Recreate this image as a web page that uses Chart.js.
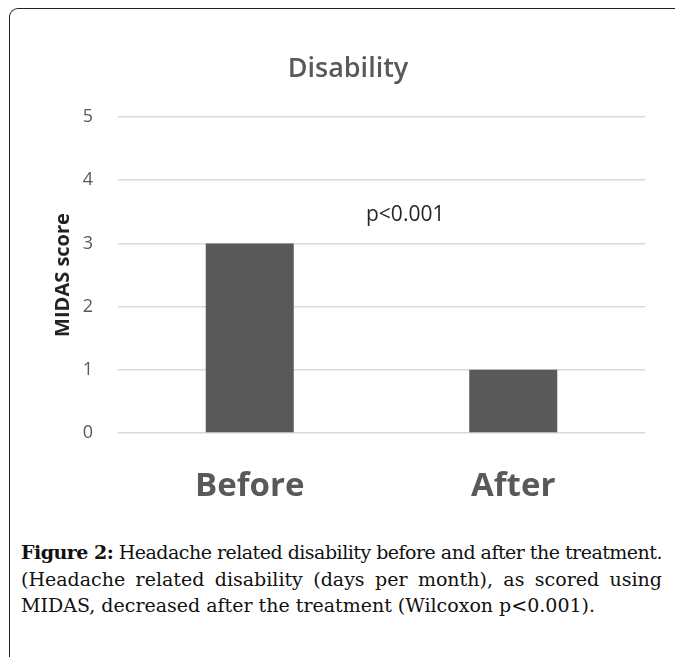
<!DOCTYPE html>
<html>
<head>
<meta charset="utf-8">
<script src="https://cdn.jsdelivr.net/npm/chart.js@4"></script>
<style>
  html, body { margin: 0; padding: 0; background: #fff; }
  body { width: 675px; height: 657px; position: relative; overflow: hidden; }
  .frame {
    position: absolute; left: 9px; top: 8px; width: 720px; height: 720px;
    border-left: 1.5px solid #222; border-top: 1.5px solid #222;
    border-top-left-radius: 9px;
  }
  #wrap { position: absolute; left: 20px; top: 30px; width: 640px; height: 490px; }
  .caption {
    position: absolute; left: 21px; top: 539px; width: 641px;
    font-family: "DejaVu Serif", serif; font-size: 19px; line-height: 26.5px; color: #111;
  }
  .caption span.line { display: inline-block; white-space: nowrap; }
</style>
</head>
<body>
<div class="frame"></div>
<div id="wrap"><canvas id="myChart"></canvas></div>
<div class="caption">
  <div><span class="line fit"><b>Figure 2:</b> Headache related disability before and after the treatment.</span></div>
  <div><span class="line fit">(Headache related disability (days per month), as scored using</span></div>
  <div><span class="line">MIDAS, decreased after the treatment (Wilcoxon p&lt;0.001).</span></div>
</div>
<script>
// data
var categories = ['Before', 'After'];
var midasScores = [3, 1];
var yTicks = [0, 1, 2, 3, 4, 5];
var pLabel = 'p<0.001';
var pLabelAt = { x: 0.59, y: 3.45 }; // in data units

// justify the caption lines to the box width (squeeze if too long)
document.querySelectorAll('.caption .fit').forEach(function (el) {
  var target = 641;
  var extra = target - el.getBoundingClientRect().width;
  var text = el.textContent;
  if (extra >= 0) {
    var gaps = text.split(' ').length - 1;
    el.style.wordSpacing = (extra / gaps) + 'px';
  } else {
    el.style.letterSpacing = (extra / text.length) + 'px';
  }
});

var textPlugin = {
  id: 'pvalue',
  afterDraw: function (chart) {
    var ctx = chart.ctx;
    var x = chart.scales.x.getPixelForValue(pLabelAt.x);
    var y = chart.scales.y.getPixelForValue(pLabelAt.y);
    ctx.save();
    ctx.font = '21px "Open Sans"';
    ctx.fillStyle = '#262626';
    ctx.textAlign = 'center';
    ctx.textBaseline = 'middle';
    ctx.fillText(pLabel, x, y);
    ctx.restore();
  }
};

var ctx = document.getElementById('myChart').getContext('2d');
var myChart = new Chart(ctx, {
  type: 'bar',
  data: {
    labels: categories,
    datasets: [{
      data: midasScores,
      backgroundColor: '#595959',
      barPercentage: 1,
      categoryPercentage: 0.334
    }]
  },
  options: {
    responsive: true,
    maintainAspectRatio: false,
    animation: false,
    layout: { padding: { left: 31, right: 15, top: 0, bottom: 0 } },
    plugins: {
      legend: { display: false },
      tooltip: { enabled: false },
      title: {
        display: true,
        text: 'Disability',
        color: '#595959',
        font: { family: 'Open Sans', size: 27, weight: '600' },
        padding: { top: 23, bottom: 31.6 }
      }
    },
    scales: {
      x: {
        grid: { display: false, drawTicks: false },
        border: { display: false },
        ticks: {
          color: '#595959',
          font: { family: 'Open Sans', size: 33, weight: 'bold' },
          padding: 34
        },
        afterFit: function (s) { s.height = 87; }
      },
      y: {
        min: 0,
        max: 5,
        afterBuildTicks: function (s) { s.ticks = yTicks.map(function (v) { return { value: v }; }); },
        grid: { color: '#d9d9d9', lineWidth: 1.5, drawTicks: false },
        border: { display: false },
        ticks: {
          color: '#595959',
          font: { family: 'Open Sans', size: 18 },
          padding: 25
        },
        title: {
          display: true,
          text: 'MIDAS score',
          color: '#222',
          font: { family: 'Open Sans', size: 20, weight: 'bold' },
          padding: { top: 0, bottom: 0 }
        },
        afterFit: function (s) { s.width = 67; }
      }
    }
  },
  plugins: [textPlugin]
});
</script>
</body>
</html>
